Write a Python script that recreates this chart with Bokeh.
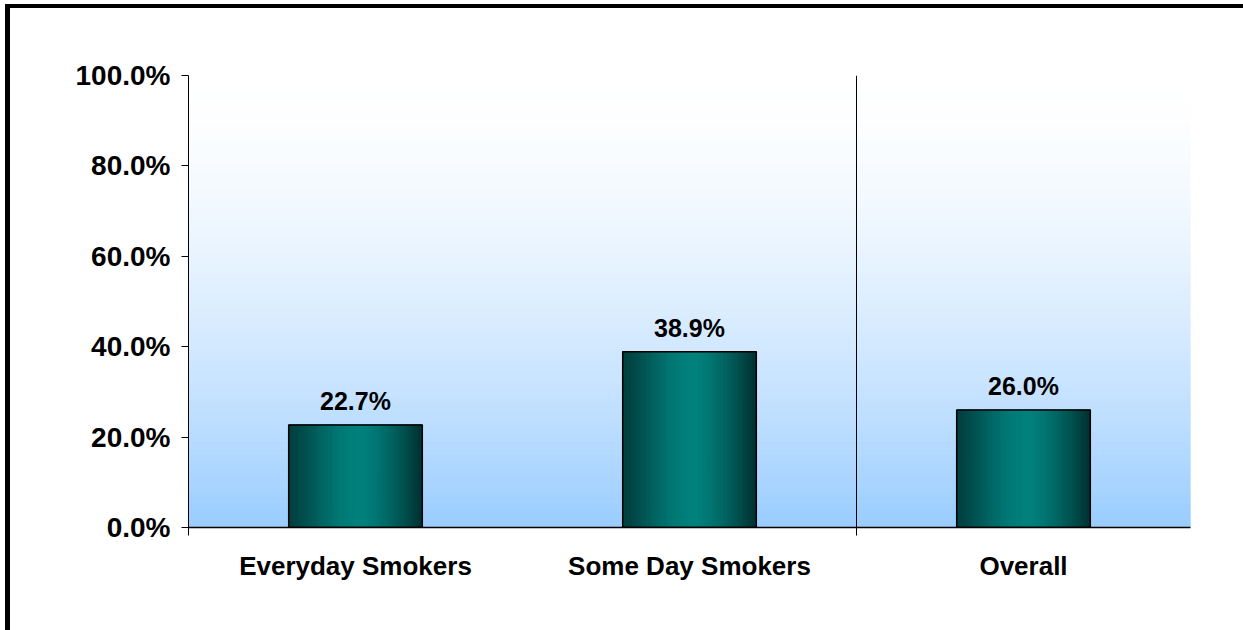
import numpy as np
from bokeh.plotting import figure
from bokeh.models import (LinearAxis, FixedTicker, NumeralTickFormatter, Range1d,
                          Span, ColumnDataSource, InlineStyleSheet)
from bokeh.core.properties import value
from bokeh.embed import file_html
from bokeh.resources import INLINE

# ---- data ----
categories = ["Everyday Smokers", "Some Day Smokers", "Overall"]
values = [0.227, 0.389, 0.260]
value_labels = ["22.7%", "38.9%", "26.0%"]
y_ticks = [0.0, 0.2, 0.4, 0.6, 0.8, 1.0]
separator_at = 2  # boundary before "Overall"

FONT = "Liberation Sans"
BAR_W = 0.4

p = figure(frame_width=1002, frame_height=452,
           min_border_left=178, min_border_right=53,
           min_border_top=67, min_border_bottom=103,
           x_range=Range1d(0, len(categories)), y_range=Range1d(0, 1),
           x_axis_type=None, y_axis_type=None,
           toolbar_location=None, output_backend="svg",
           background_fill_color="white", border_fill_color="white")
p.outline_line_color = None
p.grid.visible = False
p.stylesheets = [InlineStyleSheet(css=(
    ":host { box-shadow: -5px 0 0 0 black, 0 -4px 0 0 black, -5px -4px 0 0 black; "
    "margin-left: 10px; margin-top: 8px; }"))]

# ---- background vertical gradient (white top -> light blue bottom) ----
N = 120
edges = np.linspace(0, 1, N + 1)
mid = (edges[:-1] + edges[1:]) / 2
u = 1 - mid  # 0 at top
f = u ** 1.6
top_c = np.array([255, 255, 255])
bot_c = np.array([153, 204, 255])
cols = ["#%02x%02x%02x" % tuple(np.round(top_c + (bot_c - top_c) * fi).astype(int)) for fi in f]
p.quad(left=0, right=len(categories), bottom=edges[:-1], top=edges[1:],
       fill_color=cols, line_color=cols, line_width=1)

# ---- cylinder-shaded bars ----
centers = np.arange(len(categories)) + 0.5
M = 60
s_edges = np.linspace(0, 1, M + 1)
s_mid = (s_edges[:-1] + s_edges[1:]) / 2
lo_l = np.array([0, 62, 62])
hi = np.array([0, 128, 124])
lo_r = np.array([0, 48, 48])
peak = 0.55
shade = []
for s in s_mid:
    if s <= peak:
        k = np.sin(np.pi / 2 * s / peak) ** 1.3
        c = lo_l + (hi - lo_l) * k
    else:
        k = ((s - peak) / (1 - peak)) ** 1.4
        c = hi + (lo_r - hi) * k
    shade.append("#%02x%02x%02x" % tuple(np.round(c).astype(int)))

sl_left, sl_right, sl_top, sl_col = [], [], [], []
for cx, v in zip(centers, values):
    x0 = cx - BAR_W / 2
    for j in range(M):
        sl_left.append(x0 + BAR_W * s_edges[j])
        sl_right.append(x0 + BAR_W * s_edges[j + 1])
        sl_top.append(v)
        sl_col.append(shade[j])
p.quad(left=sl_left, right=sl_right, bottom=0, top=sl_top,
       fill_color=sl_col, line_color=sl_col, line_width=1)
p.vbar(x=centers, width=BAR_W, top=values, bottom=0, fill_color=None,
       line_color="black", line_width=1.5)

# ---- value labels ----
src = ColumnDataSource(dict(x=centers, y=values, t=value_labels))
p.text(x="x", y="y", text="t", source=src, y_offset=-24,
       text_align="center", text_baseline="alphabetic",
       text_font=value(FONT), text_font_style="bold", text_font_size="25px",
       text_color="black")

# ---- separator line ----
p.add_layout(Span(location=separator_at, dimension="height", line_color="black", line_width=1))

# ---- y axis ----
ya = LinearAxis(ticker=FixedTicker(ticks=y_ticks), formatter=NumeralTickFormatter(format="0.0%"))
ya.major_tick_out = 7
ya.major_tick_in = 0
ya.minor_tick_out = 0
ya.minor_tick_in = 0
ya.axis_line_color = "black"
ya.major_tick_line_color = "black"
ya.major_label_standoff = 11
ya.major_label_text_font = FONT
ya.major_label_text_font_style = "bold"
ya.major_label_text_font_size = "28px"
ya.major_label_text_color = "black"
p.add_layout(ya, "left")

# ---- x axis: line + boundary ticks ----
xa = LinearAxis(ticker=FixedTicker(ticks=[0, separator_at]),
                major_label_overrides={0: "", separator_at: ""})
xa.major_tick_out = 8
xa.major_tick_in = 0
xa.minor_tick_out = 0
xa.minor_tick_in = 0
xa.axis_line_color = "black"
xa.axis_line_width = 1.5
xa.major_tick_line_color = "black"
xa.major_label_text_font_size = "10px"
xa.major_label_standoff = 0
p.add_layout(xa, "below")

# ---- x axis: category labels ----
xl = LinearAxis(ticker=FixedTicker(ticks=list(centers)),
                major_label_overrides={float(c): n for c, n in zip(centers, categories)})
xl.axis_line_color = None
xl.major_tick_line_color = None
xl.major_tick_out = 0
xl.major_tick_in = 0
xl.minor_tick_out = 0
xl.minor_tick_in = 0
xl.major_label_standoff = 15
xl.major_label_text_font = FONT
xl.major_label_text_font_style = "bold"
xl.major_label_text_font_size = "26px"
xl.major_label_text_color = "black"
p.add_layout(xl, "below")

open("out.html", "w").write(file_html(p, INLINE))
